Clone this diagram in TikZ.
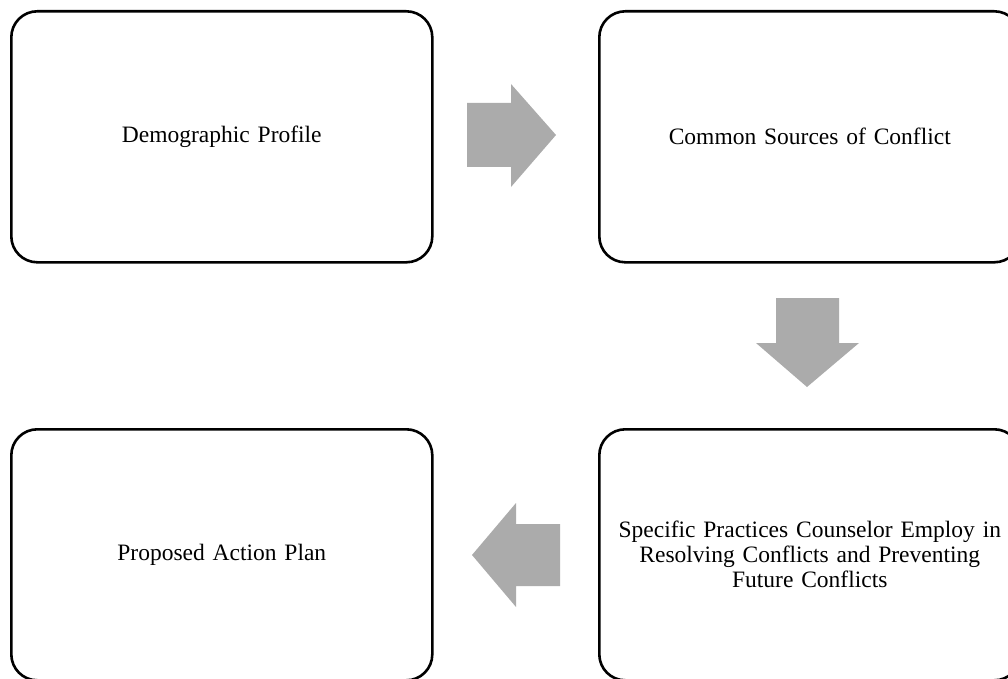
\documentclass[tikz,border=0pt]{standalone}
\usepackage{fontspec}
\setmainfont{Liberation Serif}
\begin{document}
\begin{tikzpicture}[x=1pt,y=-1pt,
  stage/.style={draw=black,line width=2.6pt,rounded corners=26pt,fill=white,
    minimum width=421pt,minimum height=251pt,align=center,
    font=\fontsize{23.5}{25}\selectfont,text width=405pt,anchor=north west,inner sep=0pt},
  flow/.style={fill=black!33,draw=none}]
\useasboundingbox (0,0) rectangle (1008,679);
\clip (0,0) rectangle (1008,679);
% four stages
\node[stage] (demo) at (10,10) {Demographic Profile};
\node[stage] (sources) at (598,10) {Common Sources of Conflict};
\node[stage] (practices) at (598,428) {Specific Practices Counselor Employ in\\Resolving Conflicts and Preventing\\Future Conflicts};
\node[stage] (plan) at (10,428) {Proposed Action Plan};
% block arrows between the stages
\fill[flow] (467,103) -- (511,103) -- (511,84) -- (556,135) -- (511,187) -- (511,167) -- (467,167) -- cycle;
\fill[flow] (776,298) -- (839,298) -- (839,343) -- (859,343) -- (807,387) -- (756,343) -- (776,343) -- cycle;
\fill[flow] (560,524) -- (516,524) -- (516,503) -- (472,555) -- (516,607) -- (516,586) -- (560,586) -- cycle;
\end{tikzpicture}
\end{document}
